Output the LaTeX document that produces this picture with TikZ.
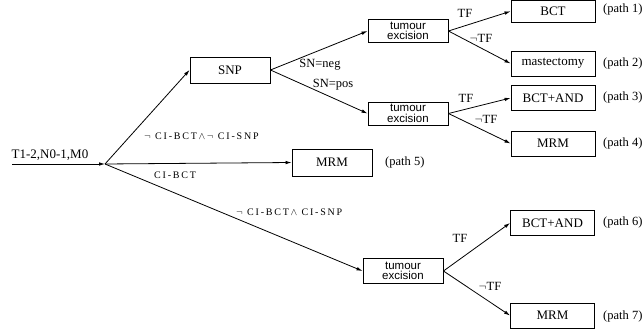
\documentclass[tikz,border=0pt]{standalone}
\usepackage{fontspec}
\setmainfont{Liberation Serif}
\newfontfamily\boxsans{Liberation Sans}
\newfontfamily\condfont[LetterSpace=18]{Liberation Serif}
\usetikzlibrary{arrows.meta}

\begin{document}
\begin{tikzpicture}[x=1pt,y=-1pt,
  every node/.style={font=\fontsize{13}{15}\selectfont},
  outbox/.style={draw, line width=0.9pt, minimum width=84pt, minimum height=25pt, inner sep=0pt,
    font=\fontsize{13}{15}\rmfamily},
  procbox/.style={draw, line width=0.9pt, minimum width=80pt, minimum height=23pt, inner sep=0pt,
    align=center, font=\fontsize{11.5}{10.5}\boxsans},
  conn/.style={line width=0.8pt, -{Latex[length=6pt,width=3.6pt]}},
  edgelbl/.style={inner sep=0pt, font=\fontsize{12.5}{14}\selectfont},
  condlbl/.style={inner sep=0pt, anchor=west, font=\fontsize{10}{12}\condfont},
  pathlbl/.style={inner sep=0pt, anchor=west, font=\fontsize{12.5}{14}\selectfont}]
\useasboundingbox (0,0) rectangle (644,336);

% start of the tree
\coordinate (start) at (12,164);
\coordinate (split) at (105,164);
\node[anchor=base, inner sep=0pt] (stage) at (50,159) {T1-2,N0-1,M0};

% decision boxes
\node[outbox, minimum width=80pt, minimum height=26pt] (snp) at (230,70) {SNP};
\node[procbox] (te1) at (408,31) {tumour\\excision};
\node[procbox] (te2) at (408,113.5) {tumour\\excision};
\node[procbox, minimum height=25pt] (te3) at (403,271) {tumour\\excision};

% treatment outcomes
\node[outbox, minimum height=22pt] (bct1) at (553,11.3) {BCT};
\node[outbox] (mast2) at (553,63.5) {mastectomy};
\node[outbox] (bca3) at (553,98) {BCT+AND};
\node[outbox] (mrm4) at (553,143.5) {MRM};
\node[outbox, minimum width=80pt, minimum height=27pt] (mrm5) at (332,162.5) {MRM};
\node[outbox] (bca6) at (552.5,223) {BCT+AND};
\node[outbox] (mrm7) at (552.5,315.5) {MRM};

% path labels
\node[pathlbl] (p1) at (603,9) {(path 1)};
\node[pathlbl] (p2) at (603,63) {(path 2)};
\node[pathlbl] (p3) at (603,97) {(path 3)};
\node[pathlbl] (p4) at (603,143) {(path 4)};
\node[pathlbl] (p5) at (385,162) {(path 5)};
\node[pathlbl] (p6) at (603,222) {(path 6)};
\node[pathlbl] (p7) at (603,316) {(path 7)};

% connectors
\draw[conn] (start) -- (split);
\draw[conn] (split) -- (snp.west);
\draw[conn] (split) -- (mrm5.west);
\draw[conn] (split) -- (te3.west);
\draw[conn] (snp.east) -- (te1.west);
\draw[conn] (snp.east) -- (te2.west);
\draw[conn] (te1.east) -- (bct1.west);
\draw[conn] (te1.east) -- (mast2.west);
\draw[conn] (te2.east) -- (bca3.west);
\draw[conn] (te2.east) -- (mrm4.west);
\draw[conn] (te3.east) -- (bca6.west);
\draw[conn] (te3.east) -- (mrm7.west);

% branch conditions
\node[condlbl] (c1) at (144,136) {$\neg$ CI-BCT$\,\wedge\,\neg$ CI-SNP};
\node[condlbl] (c2) at (154,175) {CI-BCT};
\node[condlbl] (c3) at (236,212) {$\neg$ CI-BCT$\,\wedge$ CI-SNP};
\node[edgelbl] (sn1) at (320,65) {SN=neg};
\node[edgelbl] (sn2) at (333,85) {SN=pos};
\node[edgelbl] (tf1) at (465,13) {TF};
\node[edgelbl] (ntf1) at (481,38) {$\neg$TF};
\node[edgelbl] (tf2) at (466,98) {TF};
\node[edgelbl] (ntf2) at (486,119) {$\neg$TF};
\node[edgelbl] (tf3) at (460,238) {TF};
\node[edgelbl] (ntf3) at (490,286) {$\neg$TF};
\end{tikzpicture}
\end{document}
